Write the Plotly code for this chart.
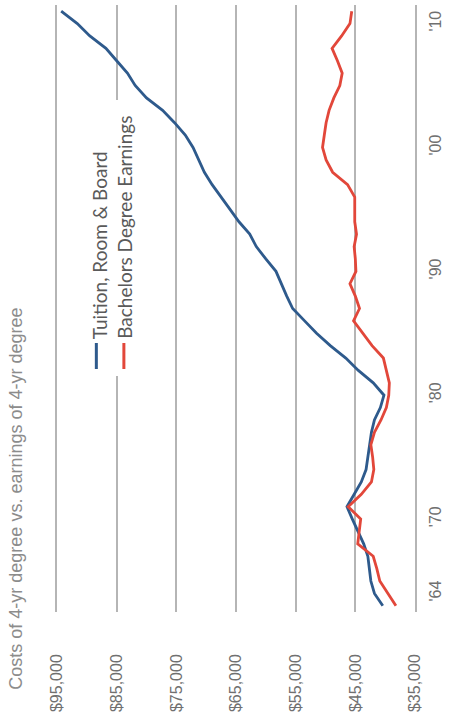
import plotly.graph_objects as go

years = list(range(1963, 2012))
tuition = [40.4, 41.8, 42.4, 42.7, 42.9, 43.6, 44.6, 45.5, 46.4, 45.2,
           44.0, 43.2, 42.9, 42.7, 42.3, 41.8, 40.8, 40.2, 42.0, 44.5,
           46.6, 49.2, 51.5, 53.5, 55.5, 56.5, 57.4, 58.3, 60.0, 61.6,
           62.7, 64.5, 66.0, 67.5, 69.0, 70.3, 71.3, 72.2, 73.5, 75.3,
           77.3, 80.0, 81.9, 83.2, 85.0, 86.8, 89.5, 91.6, 94.3]
earnings = [38.2, 39.6, 40.9, 41.4, 42.0, 44.6, 44.3, 44.1, 46.2, 44.0,
            42.3, 41.9, 42.1, 42.4, 41.8, 40.7, 39.8, 39.4, 39.3, 39.8,
            40.3, 42.2, 43.8, 45.3, 44.3, 45.0, 45.9, 44.9, 45.0, 45.2,
            44.8, 45.1, 45.1, 45.1, 46.3, 48.8, 49.9, 50.5, 50.2, 49.9,
            49.4, 48.6, 47.6, 47.2, 48.0, 48.9, 47.3, 45.9, 45.6]
series_names = ["Tuition, Room & Board", "Bachelors Degree Earnings"]
value_ticks = [35, 45, 55, 65, 75, 85, 95]
value_labels = ["$35,000", "$45,000", "$55,000", "$65,000", "$75,000", "$85,000", "$95,000"]
year_ticks = [1964, 1970, 1980, 1990, 2000, 2010]
year_labels = ["'64", "'70", "'80", "'90", "'00", "'10"]
title_text = "Costs of 4-yr degree vs. earnings of 4-yr degree"

BLUE = "#2E5A8C"
RED = "#E2473A"
GRID = "#b5b5b5"
TICK = "#707070"

fig = go.Figure()
fig.add_trace(go.Scatter(x=tuition, y=years, mode="lines", name=series_names[0],
                         line=dict(color=BLUE, width=2.8)))
fig.add_trace(go.Scatter(x=earnings, y=years, mode="lines", name=series_names[1],
                         line=dict(color=RED, width=2.8)))

L, R, T, B = 57, 28, 5, 107
W, H = 449, 719
pw, ph = W - L - R, H - T - B

def px(xp):
    return (xp - L) / pw

def py(yp):
    return (H - B - yp) / ph

fig.update_layout(
    width=W, height=H,
    margin=dict(l=L, r=R, t=T, b=B),
    plot_bgcolor="white", paper_bgcolor="white",
    showlegend=False,
    xaxis=dict(range=[95, 35], tickvals=value_ticks, ticktext=value_labels,
               tickangle=-90, showgrid=True, gridcolor=GRID, gridwidth=1.6,
               zeroline=False, showline=False, ticks="",
               ticklabelstandoff=38,
               tickfont=dict(family="Liberation Sans, Arial", size=16, color=TICK)),
    yaxis=dict(range=[1962.5, 2011.5], tickvals=year_ticks, ticktext=year_labels,
               side="right", tickangle=-90, showgrid=False, zeroline=False,
               showline=True, mirror=True, linecolor=GRID, linewidth=1.6, ticks="",
               ticklabelstandoff=5,
               tickfont=dict(family="Liberation Sans, Arial", size=16, color=TICK)),
    shapes=[
        dict(type="rect", xref="paper", yref="paper", x0=px(85), x1=px(135),
             y0=py(376), y1=py(100), fillcolor="white", line=dict(width=0), layer="above"),
        dict(type="line", xref="paper", yref="paper", x0=px(97), x1=px(97),
             y0=py(369), y1=py(343), line=dict(color=BLUE, width=3), layer="above"),
        dict(type="line", xref="paper", yref="paper", x0=px(125), x1=px(125),
             y0=py(369), y1=py(343), line=dict(color=RED, width=3), layer="above"),
    ],
    annotations=[
        dict(text=title_text, xref="paper", yref="paper", x=px(15), y=py(692),
             xanchor="center", yanchor="bottom", textangle=-90, showarrow=False,
             font=dict(family="Liberation Sans, Arial", size=18, color="#8c8c8c")),
        dict(text=series_names[0], xref="paper", yref="paper", x=px(100), y=py(341),
             xanchor="center", yanchor="bottom", textangle=-90, showarrow=False,
             font=dict(family="Lato", size=19, color="#5a5a5a")),
        dict(text=series_names[1], xref="paper", yref="paper", x=px(125.5), y=py(341),
             xanchor="center", yanchor="bottom", textangle=-90, showarrow=False,
             font=dict(family="Lato", size=19, color="#5a5a5a")),
    ],
)

fig.write_html("out.html")
